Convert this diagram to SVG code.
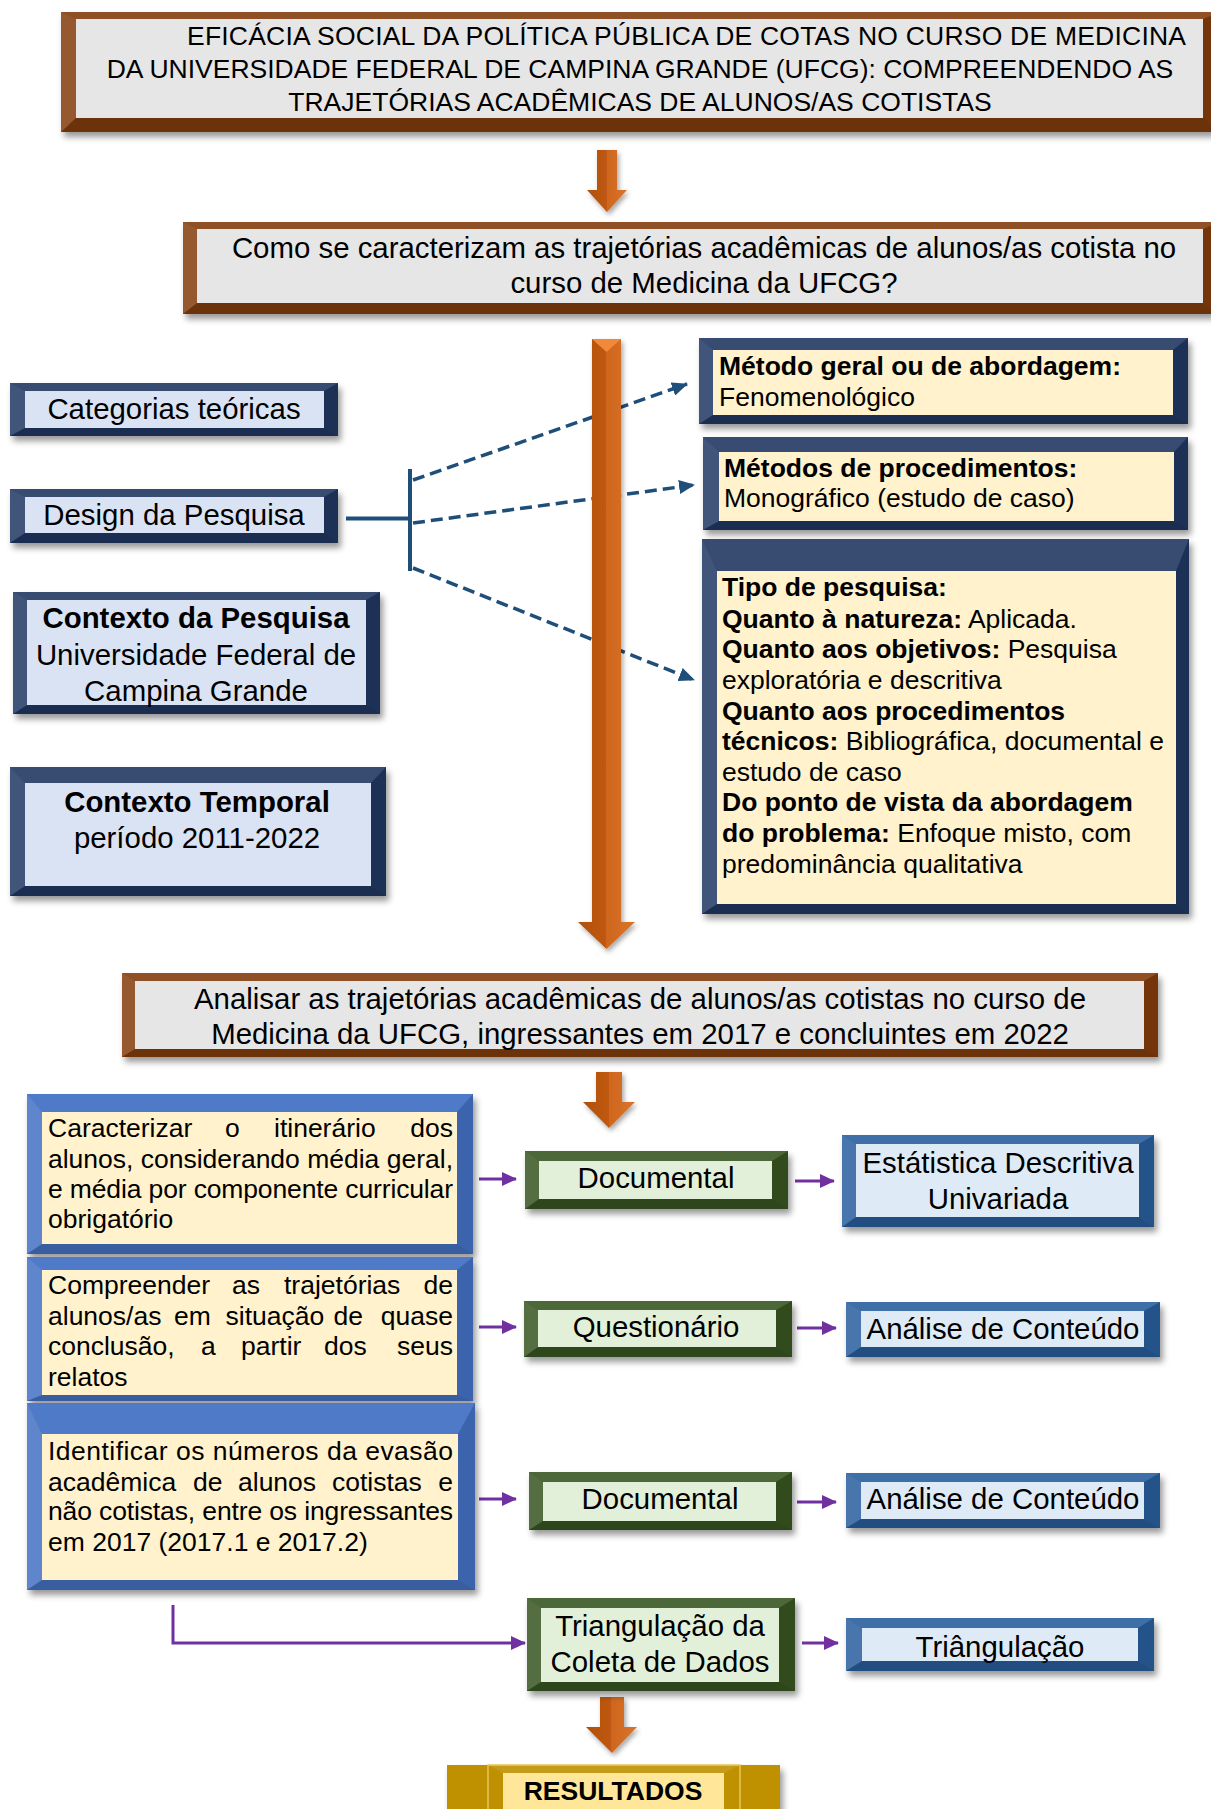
<svg xmlns="http://www.w3.org/2000/svg" width="1211" height="1809" viewBox="0 0 1211 1809">
<defs>
<style>
text{font-family:"Liberation Sans",Arial,sans-serif;fill:#000}
.t26{font-size:26.5px}.t29{font-size:29.4px}.b{font-weight:bold}.c{text-anchor:middle}.e{text-anchor:end}
.sd{filter:url(#sh)}
.brown{fill:#843c0c}.navy{fill:#203864}.obj{fill:#4472c4}.grn{fill:#385723}.blu{fill:#2a5f9e}.gold{fill:#bf9000}
.lt{fill:#fff;opacity:.1}.lt2{fill:#fff;opacity:.14}.dk{fill:#000;opacity:.12}.dk2{fill:#000;opacity:.18}
.obj + .lt{opacity:.06}
.gray{fill:#e7e6e6}.lb{fill:#dae3f3}.cream{fill:#fff2cc}.lg{fill:#e2f0d9}.lb2{fill:#deebf7}.ly{fill:#ffe699}
.dash{stroke:#1f4e79;stroke-width:3.5;stroke-dasharray:12 6;fill:none;marker-end:url(#ab)}
.sol{stroke:#1f4e79;stroke-width:4;fill:none}
.pur{stroke:#7030a0;stroke-width:3;fill:none;marker-end:url(#ap)}
.oa{fill:url(#og);filter:url(#sh2)}
</style>
<filter id="sh" x="-5%" y="-10%" width="115%" height="140%"><feDropShadow dx="3" dy="5" stdDeviation="3" flood-color="#000" flood-opacity="0.4"/></filter>
<filter id="sh2" x="-40%" y="-5%" width="200%" height="115%"><feDropShadow dx="2" dy="3" stdDeviation="2.5" flood-color="#000" flood-opacity="0.35"/></filter>
<linearGradient id="og" x1="0" y1="0" x2="1" y2="0">
<stop offset="0" stop-color="#b0500f"/><stop offset="0.5" stop-color="#c05812"/><stop offset="0.5" stop-color="#cf661d"/><stop offset="1" stop-color="#d9742c"/>
</linearGradient>
<marker id="ab" markerWidth="16" markerHeight="14" refX="15" refY="7" orient="auto" markerUnits="userSpaceOnUse"><path d="M0,0 L16,7 L0,14 z" fill="#1f4e79"/></marker>
<marker id="ap" markerWidth="15" markerHeight="14" refX="14" refY="7" orient="auto" markerUnits="userSpaceOnUse"><path d="M0,0 L15,7 L0,14 z" fill="#7030a0"/></marker>
</defs>
<rect width="1211" height="1809" fill="#fff"/>

<g id="connectors">
<line class="dash" x1="413" y1="480" x2="687" y2="384"/>
<line class="dash" x1="413" y1="523" x2="694" y2="485"/>
<line class="dash" x1="413" y1="568" x2="694" y2="680"/>
<line class="sol" x1="346" y1="518.5" x2="410" y2="518.5"/>
<line class="sol" x1="410" y1="469" x2="410" y2="571"/>
<path class="oa" d="M597,150 H617 V190 H627 L607,212 L587,190 H597 Z"/>
<path class="oa" d="M592,339 H621 V922 H635 L606.5,949 L578,922 H592 Z"/>
<polygon points="592,339 621,339 606.5,352" fill="#f0893a"/>
<path class="oa" d="M596,1072 H622 V1102 H635 L609,1128 L583,1102 H596 Z"/>
<path class="oa" d="M600,1697 H624 V1727 H637 L612,1753 L586,1727 H600 Z"/>
<line class="pur" x1="479" y1="1179" x2="516" y2="1179"/>
<line class="pur" x1="795" y1="1181" x2="834" y2="1181"/>
<line class="pur" x1="479" y1="1327" x2="516" y2="1327"/>
<line class="pur" x1="797" y1="1328" x2="836" y2="1328"/>
<line class="pur" x1="479" y1="1499" x2="516" y2="1499"/>
<line class="pur" x1="797" y1="1502" x2="836" y2="1502"/>
<polyline class="pur" points="173,1605 173,1643 525,1643"/>
<line class="pur" x1="802" y1="1643" x2="838" y2="1643"/>
</g>

<g id="titulo">
<rect class="brown sd" x="61" y="12" width="1159" height="120"/>
<polygon class="lt" points="61,12 1220,12 1203,19 76,19"/>
<polygon class="lt2" points="61,12 76,19 76,118 61,132"/>
<polygon class="dk" points="1220,12 1220,132 1203,118 1203,19"/>
<polygon class="dk2" points="61,132 76,118 1203,118 1220,132"/>
<rect class="gray" x="76" y="19" width="1127" height="99"/>
<text class="t26" x="187" y="45" textLength="999">EFICÁCIA SOCIAL DA POLÍTICA PÚBLICA DE COTAS NO CURSO DE MEDICINA</text>
<text class="t26 c" x="640" y="78">DA UNIVERSIDADE FEDERAL DE CAMPINA GRANDE (UFCG): COMPREENDENDO AS</text>
<text class="t26 c" x="640" y="111">TRAJETÓRIAS ACADÊMICAS DE ALUNOS/AS COTISTAS</text>
</g>

<g id="pergunta">
<rect class="brown sd" x="183" y="222" width="1037" height="92"/>
<polygon class="lt" points="183,222 1220,222 1203,229 197,229"/>
<polygon class="lt2" points="183,222 197,229 197,303 183,314"/>
<polygon class="dk" points="1220,222 1220,314 1203,303 1203,229"/>
<polygon class="dk2" points="183,314 197,303 1203,303 1220,314"/>
<rect class="gray" x="197" y="229" width="1006" height="74"/>
<text class="t29 c" x="704" y="258">Como se caracterizam as trajetórias acadêmicas de alunos/as cotista no</text>
<text class="t29 c" x="704" y="293">curso de Medicina da UFCG?</text>
</g>

<g id="categorias">
<rect class="navy sd" x="10" y="383" width="328" height="53"/>
<polygon class="lt" points="10,383 338,383 324,391 25,391"/>
<polygon class="lt2" points="10,383 25,391 25,428 10,436"/>
<polygon class="dk" points="338,383 338,436 324,428 324,391"/>
<polygon class="dk2" points="10,436 25,428 324,428 338,436"/>
<rect class="lb" x="25" y="391" width="299" height="37"/>
<text class="t29 c" x="174" y="419">Categorias teóricas</text>
</g>

<g id="design">
<rect class="navy sd" x="10" y="489" width="328" height="54"/>
<polygon class="lt" points="10,489 338,489 324,497 25,497"/>
<polygon class="lt2" points="10,489 25,497 25,533 10,543"/>
<polygon class="dk" points="338,489 338,543 324,533 324,497"/>
<polygon class="dk2" points="10,543 25,533 324,533 338,543"/>
<rect class="lb" x="25" y="497" width="299" height="36"/>
<text class="t29 c" x="174" y="525">Design da Pesquisa</text>
</g>

<g id="contexto-pesquisa">
<rect class="navy sd" x="13" y="592" width="367" height="122"/>
<polygon class="lt" points="13,592 380,592 366,600 27,600"/>
<polygon class="lt2" points="13,592 27,600 27,705 13,714"/>
<polygon class="dk" points="380,592 380,714 366,705 366,600"/>
<polygon class="dk2" points="13,714 27,705 366,705 380,714"/>
<rect class="lb" x="27" y="600" width="339" height="105"/>
<text class="t29 c b" x="196" y="628">Contexto da Pesquisa</text>
<text class="t29 c" x="196" y="665">Universidade Federal de</text>
<text class="t29 c" x="196" y="701">Campina Grande</text>
</g>

<g id="contexto-temporal">
<rect class="navy sd" x="10" y="767" width="376" height="129"/>
<polygon class="lt" points="10,767 386,767 371,783 25,783"/>
<polygon class="lt2" points="10,767 25,783 25,886 10,896"/>
<polygon class="dk" points="386,767 386,896 371,886 371,783"/>
<polygon class="dk2" points="10,896 25,886 371,886 386,896"/>
<rect class="lb" x="25" y="783" width="346" height="103"/>
<text class="t29 c b" x="197" y="812">Contexto Temporal</text>
<text class="t29 c" x="197" y="848">período 2011-2022</text>
</g>

<g id="metodo-geral">
<rect class="navy sd" x="699" y="338" width="489" height="86"/>
<polygon class="lt" points="699,338 1188,338 1173,350 713,350"/>
<polygon class="lt2" points="699,338 713,350 713,415 699,424"/>
<polygon class="dk" points="1188,338 1188,424 1173,415 1173,350"/>
<polygon class="dk2" points="699,424 713,415 1173,415 1188,424"/>
<rect class="cream" x="713" y="350" width="460" height="65"/>
<text class="t26 b" x="719" y="375">Método geral ou de abordagem:</text>
<text class="t26" x="719" y="406">Fenomenológico</text>
</g>

<g id="metodos-procedimentos">
<rect class="navy sd" x="703" y="437" width="485" height="93"/>
<polygon class="lt" points="703,437 1188,437 1174,452 719,452"/>
<polygon class="lt2" points="703,437 719,452 719,521 703,530"/>
<polygon class="dk" points="1188,437 1188,530 1174,521 1174,452"/>
<polygon class="dk2" points="703,530 719,521 1174,521 1188,530"/>
<rect class="cream" x="719" y="452" width="455" height="69"/>
<text class="t26 b" x="724" y="477">Métodos de procedimentos:</text>
<text class="t26" x="724" y="507">Monográfico (estudo de caso)</text>
</g>

<g id="tipo-pesquisa">
<rect class="navy sd" x="702" y="539" width="487" height="375"/>
<polygon class="lt" points="702,539 1189,539 1176,571 717,571"/>
<polygon class="lt2" points="702,539 717,571 717,904 702,914"/>
<polygon class="dk" points="1189,539 1189,914 1176,904 1176,571"/>
<polygon class="dk2" points="702,914 717,904 1176,904 1189,914"/>
<rect class="cream" x="717" y="571" width="459" height="333"/>
<text class="t26" x="722">
<tspan x="722" y="596" class="b">Tipo de pesquisa:</tspan>
<tspan x="722" y="628"><tspan class="b">Quanto à natureza:</tspan> Aplicada.</tspan>
<tspan x="722" y="658"><tspan class="b">Quanto aos objetivos:</tspan> Pesquisa</tspan>
<tspan x="722" y="689">exploratória e descritiva</tspan>
<tspan x="722" y="720" class="b">Quanto aos procedimentos</tspan>
<tspan x="722" y="750"><tspan class="b">técnicos:</tspan> Bibliográfica, documental e</tspan>
<tspan x="722" y="781">estudo de caso</tspan>
<tspan x="722" y="811" class="b">Do ponto de vista da abordagem</tspan>
<tspan x="722" y="842"><tspan class="b">do problema:</tspan> Enfoque misto, com</tspan>
<tspan x="722" y="873">predominância qualitativa</tspan>
</text>
</g>

<g id="objetivo-geral">
<rect class="brown sd" x="122" y="973" width="1036" height="84"/>
<polygon class="lt" points="122,973 1158,973 1144,981 135,981"/>
<polygon class="lt2" points="122,973 135,981 135,1049 122,1057"/>
<polygon class="dk" points="1158,973 1158,1057 1144,1049 1144,981"/>
<polygon class="dk2" points="122,1057 135,1049 1144,1049 1158,1057"/>
<rect class="gray" x="135" y="981" width="1009" height="68"/>
<text class="t29 c" x="640" y="1009">Analisar as trajetórias acadêmicas de alunos/as cotistas no curso de</text>
<text class="t29 c" x="640" y="1044">Medicina da UFCG, ingressantes em 2017 e concluintes em 2022</text>
</g>

<g id="objetivo-1">
<rect class="obj sd" x="27" y="1094" width="446" height="160"/>
<polygon class="lt" points="27,1094 473,1094 457,1112 42,1112"/>
<polygon class="lt2" points="27,1094 42,1112 42,1244 27,1254"/>
<polygon class="dk" points="473,1094 473,1254 457,1244 457,1112"/>
<polygon class="dk2" points="27,1254 42,1244 457,1244 473,1254"/>
<rect class="cream" x="42" y="1112" width="415" height="132"/>
<text class="t26" y="1137"><tspan x="48">Caracterizar</tspan><tspan x="225">o</tspan><tspan x="274">itinerário</tspan></text>
<text class="t26 e" x="453" y="1137">dos</text>
<text class="t26" x="48" y="1168" textLength="405">alunos, considerando média geral,</text>
<text class="t26" x="48" y="1198" textLength="405">e média por componente curricular</text>
<text class="t26" x="48" y="1228">obrigatório</text>
</g>

<g id="objetivo-2">
<rect class="obj sd" x="27" y="1257" width="446" height="144"/>
<polygon class="lt" points="27,1257 473,1257 457,1270 42,1270"/>
<polygon class="lt2" points="27,1257 42,1270 42,1395 27,1401"/>
<polygon class="dk" points="473,1257 473,1401 457,1395 457,1270"/>
<polygon class="dk2" points="27,1401 42,1395 457,1395 473,1401"/>
<rect class="cream" x="42" y="1270" width="415" height="125"/>
<text class="t26" y="1294"><tspan x="48">Compreender</tspan><tspan x="232">as</tspan><tspan x="284">trajetórias</tspan></text>
<text class="t26 e" x="453" y="1294">de</text>
<text class="t26" y="1325"><tspan x="48">alunos/as</tspan><tspan x="174">em</tspan><tspan x="225.5">situação</tspan><tspan x="333.5">de</tspan></text>
<text class="t26 e" x="453" y="1325">quase</text>
<text class="t26" y="1355"><tspan x="48">conclusão,</tspan><tspan x="201">a</tspan><tspan x="241">partir</tspan><tspan x="324">dos</tspan></text>
<text class="t26 e" x="453" y="1355">seus</text>
<text class="t26" x="48" y="1386">relatos</text>
</g>

<g id="objetivo-3">
<rect class="obj sd" x="27" y="1403" width="448" height="187"/>
<polygon class="lt" points="27,1403 475,1403 458,1434 42,1434"/>
<polygon class="lt2" points="27,1403 42,1434 42,1580 27,1590"/>
<polygon class="dk" points="475,1403 475,1590 458,1580 458,1434"/>
<polygon class="dk2" points="27,1590 42,1580 458,1580 475,1590"/>
<rect class="cream" x="42" y="1434" width="416" height="146"/>
<text class="t26" x="48" y="1460" textLength="405">Identificar os números da evasão</text>
<text class="t26" y="1491"><tspan x="48">acadêmica</tspan><tspan x="193">de</tspan><tspan x="238">alunos</tspan><tspan x="332">cotistas</tspan></text>
<text class="t26 e" x="453" y="1491">e</text>
<text class="t26" x="48" y="1520" textLength="405">não cotistas, entre os ingressantes</text>
<text class="t26" x="48" y="1551">em 2017 (2017.1 e 2017.2)</text>
</g>

<g id="documental-1">
<rect class="grn sd" x="525" y="1151" width="263" height="58"/>
<polygon class="lt" points="525,1151 788,1151 772,1161 539,1161"/>
<polygon class="lt2" points="525,1151 539,1161 539,1199 525,1209"/>
<polygon class="dk" points="788,1151 788,1209 772,1199 772,1161"/>
<polygon class="dk2" points="525,1209 539,1199 772,1199 788,1209"/>
<rect class="lg" x="539" y="1161" width="233" height="38"/>
<text class="t29 c" x="656" y="1188">Documental</text>
</g>

<g id="questionario">
<rect class="grn sd" x="524" y="1301" width="268" height="56"/>
<polygon class="lt" points="524,1301 792,1301 776,1310 538,1310"/>
<polygon class="lt2" points="524,1301 538,1310 538,1347 524,1357"/>
<polygon class="dk" points="792,1301 792,1357 776,1347 776,1310"/>
<polygon class="dk2" points="524,1357 538,1347 776,1347 792,1357"/>
<rect class="lg" x="538" y="1310" width="238" height="37"/>
<text class="t29 c" x="656" y="1337">Questionário</text>
</g>

<g id="documental-2">
<rect class="grn sd" x="529" y="1472" width="263" height="58"/>
<polygon class="lt" points="529,1472 792,1472 776,1482 543,1482"/>
<polygon class="lt2" points="529,1472 543,1482 543,1521 529,1530"/>
<polygon class="dk" points="792,1472 792,1530 776,1521 776,1482"/>
<polygon class="dk2" points="529,1530 543,1521 776,1521 792,1530"/>
<rect class="lg" x="543" y="1482" width="233" height="39"/>
<text class="t29 c" x="660" y="1509">Documental</text>
</g>

<g id="triangulacao-coleta">
<rect class="grn sd" x="527" y="1598" width="268" height="93"/>
<polygon class="lt" points="527,1598 795,1598 779,1608 541,1608"/>
<polygon class="lt2" points="527,1598 541,1608 541,1682 527,1691"/>
<polygon class="dk" points="795,1598 795,1691 779,1682 779,1608"/>
<polygon class="dk2" points="527,1691 541,1682 779,1682 795,1691"/>
<rect class="lg" x="541" y="1608" width="238" height="74"/>
<text class="t29 c" x="660" y="1636">Triangulação da</text>
<text class="t29 c" x="660" y="1672">Coleta de Dados</text>
</g>

<g id="estatistica">
<rect class="blu sd" x="842" y="1135" width="312" height="92"/>
<polygon class="lt" points="842,1135 1154,1135 1139,1144 856,1144"/>
<polygon class="lt2" points="842,1135 856,1144 856,1217 842,1227"/>
<polygon class="dk" points="1154,1135 1154,1227 1139,1217 1139,1144"/>
<polygon class="dk2" points="842,1227 856,1217 1139,1217 1154,1227"/>
<rect class="lb2" x="856" y="1144" width="283" height="73"/>
<text class="t29 c" x="998" y="1173">Estátistica Descritiva</text>
<text class="t29 c" x="998" y="1209">Univariada</text>
</g>

<g id="analise-1">
<rect class="blu sd" x="846" y="1302" width="314" height="55"/>
<polygon class="lt" points="846,1302 1160,1302 1144,1311 861,1311"/>
<polygon class="lt2" points="846,1302 861,1311 861,1347 846,1357"/>
<polygon class="dk" points="1160,1302 1160,1357 1144,1347 1144,1311"/>
<polygon class="dk2" points="846,1357 861,1347 1144,1347 1160,1357"/>
<rect class="lb2" x="861" y="1311" width="283" height="36"/>
<text class="t29 c" x="1003" y="1339">Análise de Conteúdo</text>
</g>

<g id="analise-2">
<rect class="blu sd" x="846" y="1473" width="314" height="55"/>
<polygon class="lt" points="846,1473 1160,1473 1144,1482 861,1482"/>
<polygon class="lt2" points="846,1473 861,1482 861,1519 846,1528"/>
<polygon class="dk" points="1160,1473 1160,1528 1144,1519 1144,1482"/>
<polygon class="dk2" points="846,1528 861,1519 1144,1519 1160,1528"/>
<rect class="lb2" x="861" y="1482" width="283" height="37"/>
<text class="t29 c" x="1003" y="1509">Análise de Conteúdo</text>
</g>

<g id="triangulacao">
<rect class="blu sd" x="846" y="1618" width="308" height="53"/>
<polygon class="lt" points="846,1618 1154,1618 1138,1628 862,1628"/>
<polygon class="lt2" points="846,1618 862,1628 862,1661 846,1671"/>
<polygon class="dk" points="1154,1618 1154,1671 1138,1661 1138,1628"/>
<polygon class="dk2" points="846,1671 862,1661 1138,1661 1154,1671"/>
<rect class="lb2" x="862" y="1628" width="276" height="33"/>
<text class="t29 c" x="1000" y="1657">Triângulação</text>
</g>

<g id="resultados">
<rect class="gold sd" x="447" y="1765" width="333" height="60"/>
<rect x="488" y="1765" width="252" height="60" fill="#bf9000" stroke="#e6c55a" stroke-width="1.5"/>
<polygon class="lt" points="488,1765 740,1765 724,1773 503,1773"/>
<rect class="ly" x="503" y="1773" width="221" height="50"/>
<text class="t26 b c" x="613" y="1800">RESULTADOS</text>
</g>
</svg>
